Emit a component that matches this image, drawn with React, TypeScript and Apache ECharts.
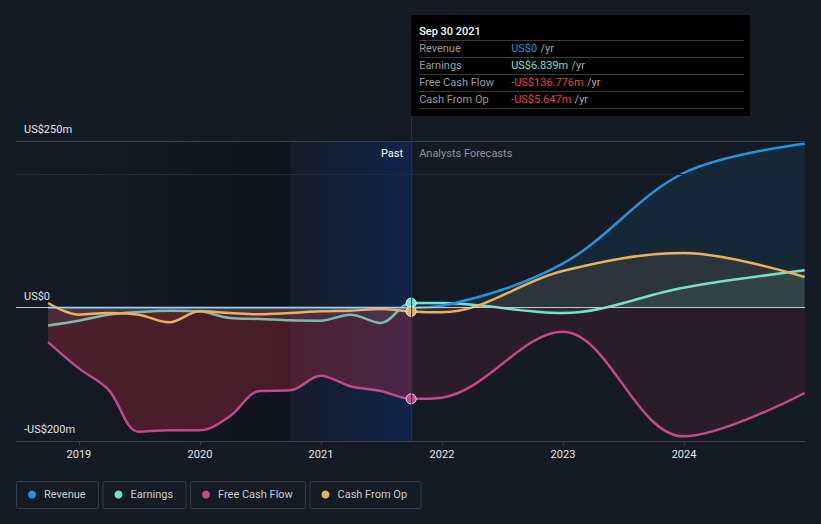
import React, { useEffect, useRef } from "react";
import * as echarts from "echarts";

// ---------- data ----------
const pastDates = [
  "2018-09-30", "2018-12-31", "2019-03-31", "2019-06-30", "2019-09-30",
  "2019-12-31", "2020-03-31", "2020-06-30", "2020-09-30", "2020-12-31",
  "2021-03-31", "2021-06-30", "2021-09-30",
];
const forecastDates = ["2021-12-31", "2022-12-31", "2023-12-31", "2024-12-31"];

// US$ millions
const revenuePast = [0, 0, 0, 0, 0, 0, 0, 0, 0, 0, 0, 0, 0];
const revenueForecast = [3, 66, 202, 246];
const earningsPast = [-26.6, -19.5, -10.5, -6.5, -4.5, -5.5, -15.5, -17, -19, -19.5, -10.5, -23, 6.839];
const earningsForecast = [7, -8, 30, 56];
const fcfPast = [-51.6, -90.7, -123, -186, -184, -184, -163, -125, -124, -102, -118, -125, -136.776];
const fcfForecast = [-135, -36, -193, -128];
const cfoPast = [7, -10.5, -8, -10.5, -22, -5.5, -8, -10, -8, -5.5, -4.5, -2, -5.647];
const cfoForecast = [-7, 55, 82, 46];

const yearTicks = [2019, 2020, 2021, 2022, 2023, 2024];
const yLabels: Record<number, string> = { 250: "US$250m", 0: "US$0", [-200]: "-US$200m" };
const highlightStart = "2020-09-30";

const tooltipTitle = "Sep 30 2021";
const tooltipRows = [
  { label: "Revenue", value: "US$0", color: "#2394df" },
  { label: "Earnings", value: "US$6.839m", color: "#6fe3cf" },
  { label: "Free Cash Flow", value: "-US$136.776m", color: "#e5443f" },
  { label: "Cash From Op", value: "-US$5.647m", color: "#e5443f" },
];

const COLORS = {
  revenue: "#2394df",
  earnings: "#6fe3cf",
  fcf: "#c6478b",
  cfo: "#e9b15d",
};

const legendItems = [
  { name: "Revenue", color: COLORS.revenue, width: 82 },
  { name: "Earnings", color: COLORS.earnings, width: 83 },
  { name: "Free Cash Flow", color: COLORS.fcf, width: 115 },
  { name: "Cash From Op", color: COLORS.cfo, width: 111 },
];

function toYear(d: string): number {
  const dt = new Date(d + "T00:00:00Z");
  const y = dt.getUTCFullYear();
  const s = Date.UTC(y, 0, 1);
  const e = Date.UTC(y + 1, 0, 1);
  return y + (dt.getTime() - s) / (e - s);
}

const FONT = "Roboto, 'Noto Sans', sans-serif";

export default function App() {
  const ref = useRef<HTMLDivElement>(null);

  useEffect(() => {
    document.body.style.margin = "0";
    document.body.style.background = "#151b25";
    if (!ref.current) return;
    const chart = echarts.init(ref.current, undefined, { renderer: "svg" });

    const xs = [...pastDates, ...forecastDates].map(toYear);
    const pastIdx = pastDates.length - 1;
    const pastEnd = xs[pastIdx];
    const frac = (pastEnd - xs[0]) / (xs[xs.length - 1] - xs[0]);
    const xMin = 2018.48;
    const xMax = 2025;

    const grad = (a: string, b: string) =>
      new echarts.graphic.LinearGradient(0, 0, 1, 0, [
        { offset: 0, color: a },
        { offset: frac, color: a },
        { offset: frac, color: b },
        { offset: 1, color: b },
      ]);

    const mk = (
      name: string,
      color: string,
      past: number[],
      fc: number[],
      areaPast: string,
      areaFc: string,
      z: number,
      lineColor?: any,
      showMarker = true
    ) => ({
      type: "line",
      name,
      z,
      smooth: 0.35,
      symbol: "circle",
      showSymbol: true,
      showAllSymbol: true,
      symbolSize: (_v: any, p: any) => (showMarker && p.dataIndex === pastIdx ? 10 : 0),
      lineStyle: { width: 2.5, color: lineColor || color },
      itemStyle: { color, borderColor: "rgba(255,255,255,0.85)", borderWidth: 1 },
      areaStyle: { color: grad(areaPast, areaFc), opacity: 1 },
      emphasis: { disabled: true },
      data: [...past, ...fc].map((v, i) => [xs[i], v]),
    });

    const option: any = {
      backgroundColor: "#151b25",
      animation: false,
      grid: { left: 16, right: 16, top: 141, bottom: 83 },
      xAxis: {
        type: "value",
        min: xMin,
        max: xMax,
        axisLine: { show: true, onZero: false, lineStyle: { color: "#3b414c", width: 1 } },
        axisTick: { show: true, customValues: yearTicks, length: 4, lineStyle: { color: "#3b414c" } },
        axisLabel: {
          customValues: yearTicks,
          color: "#e6e6e6",
          fontSize: 11,
          fontFamily: FONT,
          margin: 8,
          formatter: (v: number) => String(Math.round(v)),
        },
        splitLine: { show: false },
      },
      yAxis: {
        type: "value",
        min: -200,
        max: 250,
        interval: 50,
        axisLine: { show: false },
        axisTick: { show: false },
        splitLine: { show: false },
        axisLabel: {
          inside: true,
          margin: 8,
          verticalAlign: "bottom",
          padding: [0, 0, 6, 0],
          color: "#e6e6e6",
          fontSize: 11,
          fontFamily: FONT,
          formatter: (v: number) => yLabels[v] || "",
        },
      },
      series: [
        {
          type: "line",
          name: "bg",
          z: 1,
          data: [],
          silent: true,
          markArea: {
            silent: true,
            data: [
              [
                {
                  xAxis: xMin,
                  itemStyle: {
                    color: new echarts.graphic.LinearGradient(0, 0, 1, 0, [
                      { offset: 0, color: "rgba(0,0,0,0)" },
                      { offset: 1, color: "rgba(0,0,0,0.28)" },
                    ]),
                  },
                },
                { xAxis: toYear(highlightStart) },
              ],
              [
                {
                  xAxis: toYear(highlightStart),
                  itemStyle: {
                    color: new echarts.graphic.LinearGradient(0, 0, 1, 0, [
                      { offset: 0, color: "rgba(15,45,100,0.08)" },
                      { offset: 1, color: "rgba(10,50,130,0.42)" },
                    ]),
                  },
                },
                { xAxis: pastEnd },
              ],
            ],
          },
          markLine: {
            silent: true,
            symbol: ["none", "none"],
            label: { show: false },
            lineStyle: { type: "solid", width: 1 },
            data: [
              { yAxis: 250, lineStyle: { color: "#3a404b", type: "solid", width: 1 } },
              { yAxis: 200, lineStyle: { color: "#242a35", type: "solid", width: 1 } },
              { yAxis: 0, lineStyle: { color: "#c9c3c6", type: "solid", width: 1 } },
            ],
          },
        },
        mk("Free Cash Flow", COLORS.fcf, fcfPast, fcfForecast, "rgba(190,45,65,0.32)", "rgba(150,40,70,0.16)", 2),
        mk(
          "Earnings",
          COLORS.earnings,
          earningsPast,
          earningsForecast,
          "rgba(111,227,207,0.06)",
          "rgba(111,227,207,0.09)",
          3,
          grad("#7fb9ae", COLORS.earnings)
        ),
        mk("Cash From Op", COLORS.cfo, cfoPast, cfoForecast, "rgba(233,177,93,0.06)", "rgba(233,177,93,0.1)", 4),
        mk("Revenue", COLORS.revenue, revenuePast, revenueForecast, "rgba(35,148,223,0.05)", "rgba(35,148,223,0.1)", 3, undefined, false),
      ],
    };

    chart.setOption(option);

    const xPast = chart.convertToPixel({ xAxisIndex: 0 }, pastEnd) as number;
    const yTop = chart.convertToPixel({ yAxisIndex: 0 }, 250) as number;
    const yBottom = chart.convertToPixel({ yAxisIndex: 0 }, -200) as number;

    const graphics: any[] = [];
    // divider line
    graphics.push({
      type: "line",
      z: 50,
      silent: true,
      shape: { x1: xPast + 0.5, y1: 15, x2: xPast + 0.5, y2: yBottom },
      style: { stroke: "#233754", lineWidth: 1 },
    });
    // tooltip
    const tx = xPast;
    const ty = 15;
    const tw = 339;
    graphics.push({
      type: "rect",
      z: 60,
      shape: { x: tx, y: ty, width: tw, height: 101 },
      style: { fill: "#000000" },
    });
    graphics.push({
      type: "text",
      z: 61,
      x: tx + 8,
      y: ty + 16,
      style: {
        text: tooltipTitle,
        fill: "#ffffff",
        font: `500 11px ${FONT}`,
        verticalAlign: "middle",
      },
    });
    for (let i = 0; i < 5; i++) {
      graphics.push({
        type: "line",
        z: 61,
        shape: { x1: tx + 8, y1: ty + 25.5 + i * 17, x2: tx + 333, y2: ty + 25.5 + i * 17 },
        style: { stroke: "#3a3a3a", lineWidth: 1 },
      });
    }
    tooltipRows.forEach((r, i) => {
      const cy = ty + 33.5 + i * 17;
      graphics.push({
        type: "text",
        z: 61,
        x: tx + 8,
        y: cy,
        style: { text: r.label, fill: "#9a9a9a", font: `11px ${FONT}`, verticalAlign: "middle" },
      });
      graphics.push({
        type: "text",
        z: 61,
        x: tx + 100,
        y: cy,
        style: {
          text: `{v|${r.value}} {u|/yr}`,
          verticalAlign: "middle",
          rich: {
            v: { fill: r.color, font: `11px ${FONT}` },
            u: { fill: "#a8a8a8", font: `11px ${FONT}` },
          },
        },
      });
    });
    // Past / Analysts Forecasts
    graphics.push({
      type: "text",
      z: 40,
      x: xPast - 8,
      y: yTop + 12,
      style: { text: "Past", fill: "#ffffff", font: `11px ${FONT}`, align: "right", verticalAlign: "middle" },
    });
    graphics.push({
      type: "text",
      z: 40,
      x: xPast + 8,
      y: yTop + 12,
      style: { text: "Analysts Forecasts", fill: "#8e939a", font: `11px ${FONT}`, verticalAlign: "middle" },
    });
    // legend
    let lx = 16;
    const ly = 481;
    legendItems.forEach((it) => {
      graphics.push({
        type: "rect",
        z: 40,
        shape: { x: lx + 0.5, y: ly + 0.5, width: it.width, height: 27, r: 2 },
        style: { fill: "transparent", stroke: "#363c47", lineWidth: 1 },
      });
      graphics.push({
        type: "circle",
        z: 41,
        shape: { cx: lx + 16, cy: ly + 13.5, r: 4 },
        style: { fill: it.color },
      });
      graphics.push({
        type: "text",
        z: 41,
        x: lx + 28,
        y: ly + 13.5,
        style: { text: it.name, fill: "#c9ccd1", font: `11px ${FONT}`, verticalAlign: "middle" },
      });
      lx += it.width + 4.5;
    });

    chart.setOption({ graphic: graphics });

    return () => chart.dispose();
  }, []);

  return <div ref={ref} style={{ width: 821, height: 524, background: "#151b25" }} />;
}
